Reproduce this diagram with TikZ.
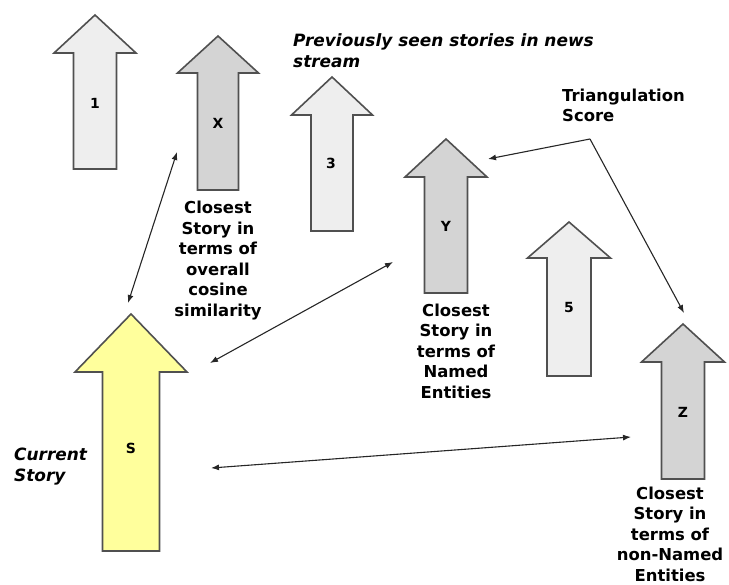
\documentclass[tikz,border=0pt]{standalone}
\usepackage{fontspec}
\setmainfont{DejaVu Sans}
\usetikzlibrary{arrows.meta}
\definecolor{lightfill}{HTML}{EEEEEE}
\definecolor{darkfill}{HTML}{D4D4D4}
\definecolor{storyyellow}{HTML}{FFFF9C}
\definecolor{edgegray}{HTML}{505050}
\tikzset{
  arrowbox/.style={draw=edgegray, line width=1.6bp, line join=miter},
  tag/.style={font=\fontsize{14}{16}\selectfont\bfseries, inner sep=0},
  lbl/.style={font=\fontsize{16.5}{20.6}\selectfont\bfseries, align=center, inner sep=0},
  lblleft/.style={lbl, align=left, anchor=west},
  lblit/.style={lblleft, font=\fontsize{17}{20.6}\selectfont\bfseries\itshape},
  conn/.style={draw=black!85, line width=1.1bp, {Latex[length=8bp,width=6bp]}-{Latex[length=8bp,width=6bp]}},
  conn1/.style={draw=black!85, line width=1.1bp, -{Latex[length=8bp,width=6bp]}}
}
\newcommand\storyarrow[7]{%
  \draw[arrowbox, fill=#7] (#1,#2) -- (#1+#4,#3) -- (#1+#5,#3) -- (#1+#5,#6)
    -- (#1-#5,#6) -- (#1-#5,#3) -- (#1-#4,#3) -- cycle;}
\begin{document}
\begin{tikzpicture}[x=1bp,y=-1bp]
\useasboundingbox (0,0) rectangle (729,585);
% block arrows
\storyarrow{95}{15}{53}{41}{21.5}{169}{lightfill}
\storyarrow{218}{36}{73}{40.5}{20.5}{190}{darkfill}
\storyarrow{332}{77}{115}{40.5}{21}{231}{lightfill}
\storyarrow{446}{139}{177}{41}{21.5}{293}{darkfill}
\storyarrow{569}{222}{258}{41.5}{22}{376}{lightfill}
\storyarrow{683}{324}{362}{41.5}{21.5}{479}{darkfill}
\storyarrow{131}{314}{372}{56}{28.5}{551}{storyyellow}
% tags
\node[tag] (t1) at (95,103) {1};
\node[tag] (tx) at (218,123) {X};
\node[tag] (t3) at (331,163) {3};
\node[tag] (ty) at (446,226) {Y};
\node[tag] (t5) at (569,308) {5};
\node[tag] (tz) at (683,412) {Z};
\node[tag] (ts) at (131,448) {S};
% texts
\node[lblit] (prev) at (293,50.5) {Previously seen stories in news\\stream};
\node[lblleft] (tri) at (562,105.5) {Triangulation\\Score};
\node[lblit] (cur) at (14,466.5) {Current\\Story};
\node[lbl] (lx) at (218,260.5) {Closest\\Story in\\terms of\\overall\\cosine\\similarity};
\node[lbl] (ly) at (456,351) {Closest\\Story in\\terms of\\Named\\Entities};
\node[lbl] (lz) at (670,534) {Closest\\Story in\\terms of\\non-Named\\Entities};
% connector end points
\coordinate (sx) at (128,303);
\coordinate (xs) at (177,152);
\coordinate (sy) at (210,363);
\coordinate (ys) at (393,262);
\coordinate (sz) at (211,468);
\coordinate (zs) at (631,437);
\coordinate (tc) at (590,139);
\coordinate (ty2) at (488,159);
\coordinate (tz2) at (684,313);
% connectors
\draw[conn] (sx) -- (xs);
\draw[conn] (sy) -- (ys);
\draw[conn] (sz) -- (zs);
\draw[conn1] (tc) -- (ty2);
\draw[conn1] (tc) -- (tz2);
\end{tikzpicture}
\end{document}
